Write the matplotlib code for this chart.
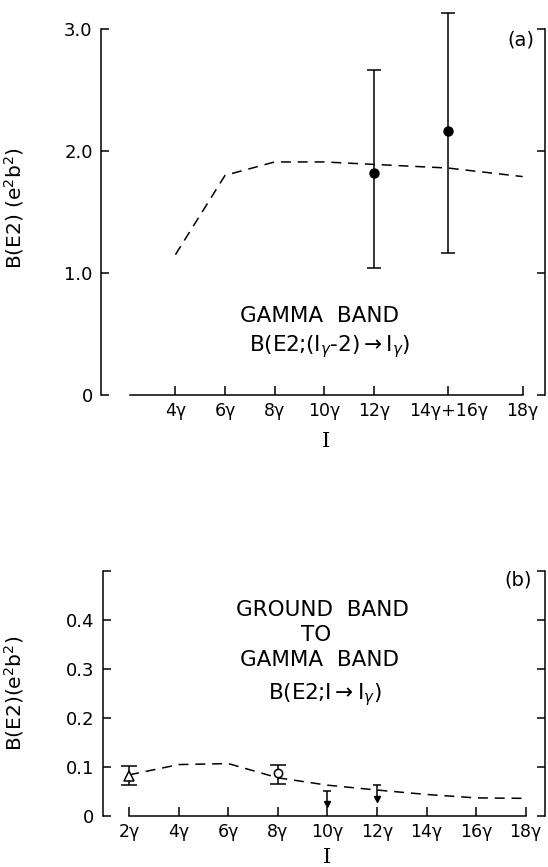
import matplotlib
matplotlib.use("Agg")
import matplotlib.pyplot as plt

plt.rcParams['font.family'] = ['DejaVu Sans']
plt.rcParams['mathtext.fontset'] = 'dejavusans'

# (a) gamma band, B(E2; (I-2)_g -> I_g)
gam_ticks = [4, 6, 8, 10, 12, 15, 18]
gam_ticklabels = ['4γ', '6γ', '8γ', '10γ', '12γ', '14γ+16γ', '18γ']
gam_calc_I = [4, 6, 8, 10, 12, 15, 18]
gam_calc_B = [1.15, 1.80, 1.91, 1.91, 1.89, 1.86, 1.79]
gam_exp_I = [12, 15]
gam_exp_B = [1.82, 2.16]
gam_exp_lo = [1.04, 1.16]
gam_exp_hi = [2.66, 3.13]

# (b) ground band -> gamma band, B(E2; I -> I_g)
gg_ticks = [2, 4, 6, 8, 10, 12, 14, 16, 18]
gg_ticklabels = ['2γ', '4γ', '6γ', '8γ', '10γ', '12γ', '14γ', '16γ', '18γ']
gg_calc_I = [2, 4, 6, 8, 10, 12, 14, 16, 18]
gg_calc_B = [0.084, 0.105, 0.107, 0.078, 0.063, 0.053, 0.044, 0.037, 0.036]
gg_tri_I, gg_tri_B, gg_tri_lo, gg_tri_hi = [2], [0.082], [0.063], [0.102]
gg_circ_I, gg_circ_B, gg_circ_lo, gg_circ_hi = [8], [0.087], [0.065], [0.104]
gg_ul_I = [10, 12]
gg_ul_B = [0.052, 0.063]
ARROW_LEN = 0.028

DASH = (0, (6.5, 4.5))
LW = 1.1


def frame(ax, ylim, yticks, ylabels, xlim, xticks, xlabels, xbounds):
    ax.set_xlim(*xlim)
    ax.set_ylim(*ylim)
    ax.spines['top'].set_visible(False)
    for s in ax.spines.values():
        s.set_linewidth(LW)
    ax.spines['bottom'].set_bounds(*xbounds)
    ax.set_yticks(yticks)
    ax.set_yticklabels(ylabels)
    ax.set_xticks(xticks)
    ax.set_xticklabels(xlabels)
    ax.tick_params(axis='y', which='both', direction='in', length=6, width=LW,
                   right=True, labelsize=13, pad=6)
    ax.tick_params(axis='x', direction='in', length=6.5, width=LW,
                   labelsize=12.5, pad=5)


def errbars(ax, x, y, lo, hi, cap):
    yerr = [[v - l for v, l in zip(y, lo)], [h - v for v, h in zip(y, hi)]]
    c = ax.errorbar(x, y, yerr=yerr, fmt='none', ecolor='black',
                    elinewidth=LW, capsize=cap, capthick=LW)
    for a in c.get_children():
        a.set_clip_on(False)


fig = plt.figure(figsize=(5.48, 8.67), dpi=100)

# ---- panel (a)
ax1 = fig.add_axes([0.1843, 0.5444, 0.8102, 0.4222])
frame(ax1, (0, 3.0), [0, 1, 2, 3], ['0', '1.0', '2.0', '3.0'],
      (1.0, 18.9), gam_ticks, gam_ticklabels, (2.15, 18))
ax1.plot(gam_calc_I, gam_calc_B, color='black', lw=LW, linestyle=DASH)
errbars(ax1, gam_exp_I, gam_exp_B, gam_exp_lo, gam_exp_hi, 5)
ax1.plot(gam_exp_I, gam_exp_B, 'o', color='black', ms=6.5, clip_on=False)

ax1.text(0.946, 0.970, '(a)', transform=ax1.transAxes, ha='center',
         va='center', fontsize=14)
ax1.text(0.493, 0.216, 'GAMMA  BAND', transform=ax1.transAxes,
         ha='center', va='center', fontsize=15.5)
ax1.text(0.516, 0.131, r'B(E2;(I$_\gamma$-2)$\rightarrow$I$_\gamma$)',
         transform=ax1.transAxes, ha='center', va='center', fontsize=15.5)
ax1.set_ylabel(r'B(E2) (e$^2$b$^2$)', fontsize=14.5)
ax1.yaxis.set_label_coords(-0.169, 0.511)
ax1.set_xlabel('I', family='DejaVu Serif', fontsize=15, va='center')
ax1.xaxis.set_label_coords(0.507, -0.128)

# ---- panel (b)
ax2 = fig.add_axes([0.1874, 0.0588, 0.8070, 0.2826])
frame(ax2, (0, 0.5), [0, 0.1, 0.2, 0.3, 0.4, 0.5],
      ['0', '0.1', '0.2', '0.3', '0.4', ''],
      (0.93, 18.78), gg_ticks, gg_ticklabels, (2, 18))
ax2.plot(gg_calc_I, gg_calc_B, color='black', lw=LW, linestyle=DASH)
errbars(ax2, gg_tri_I, gg_tri_B, gg_tri_lo, gg_tri_hi, 6)
ax2.plot(gg_tri_I, gg_tri_B, '^', mfc='white', mec='black', mew=LW, ms=6.5)
errbars(ax2, gg_circ_I, gg_circ_B, gg_circ_lo, gg_circ_hi, 6)
ax2.plot(gg_circ_I, gg_circ_B, 'o', mfc='white', mec='black', mew=LW, ms=6)

# upper limits: cap on top, stem down to a filled arrow head
ul_tip = [v - ARROW_LEN for v in gg_ul_B]
ax2.vlines(gg_ul_I, ul_tip, gg_ul_B, color='black', lw=LW)
ax2.plot(gg_ul_I, gg_ul_B, '_', color='black', ms=6, mew=LW)
ax2.plot(gg_ul_I, ul_tip, 'v', color='black', ms=4.5)

ax2.text(0.939, 0.963, '(b)', transform=ax2.transAxes, ha='center',
         va='center', fontsize=14)
ax2.text(0.496, 0.841, 'GROUND  BAND', transform=ax2.transAxes,
         ha='center', va='center', fontsize=15.5)
ax2.text(0.482, 0.739, 'TO', transform=ax2.transAxes,
         ha='center', va='center', fontsize=15.5)
ax2.text(0.491, 0.637, 'GAMMA  BAND', transform=ax2.transAxes,
         ha='center', va='center', fontsize=15.5)
ax2.text(0.503, 0.494, r'B(E2;I$\rightarrow$I$_\gamma$)',
         transform=ax2.transAxes, ha='center', va='center', fontsize=15.5)
ax2.set_ylabel(r'B(E2)(e$^2$b$^2$)', fontsize=14.5)
ax2.yaxis.set_label_coords(-0.173, 0.502)
ax2.set_xlabel('I', family='DejaVu Serif', fontsize=15, va='center')
ax2.xaxis.set_label_coords(0.508, -0.171)

fig.savefig('out.png', dpi=100)
